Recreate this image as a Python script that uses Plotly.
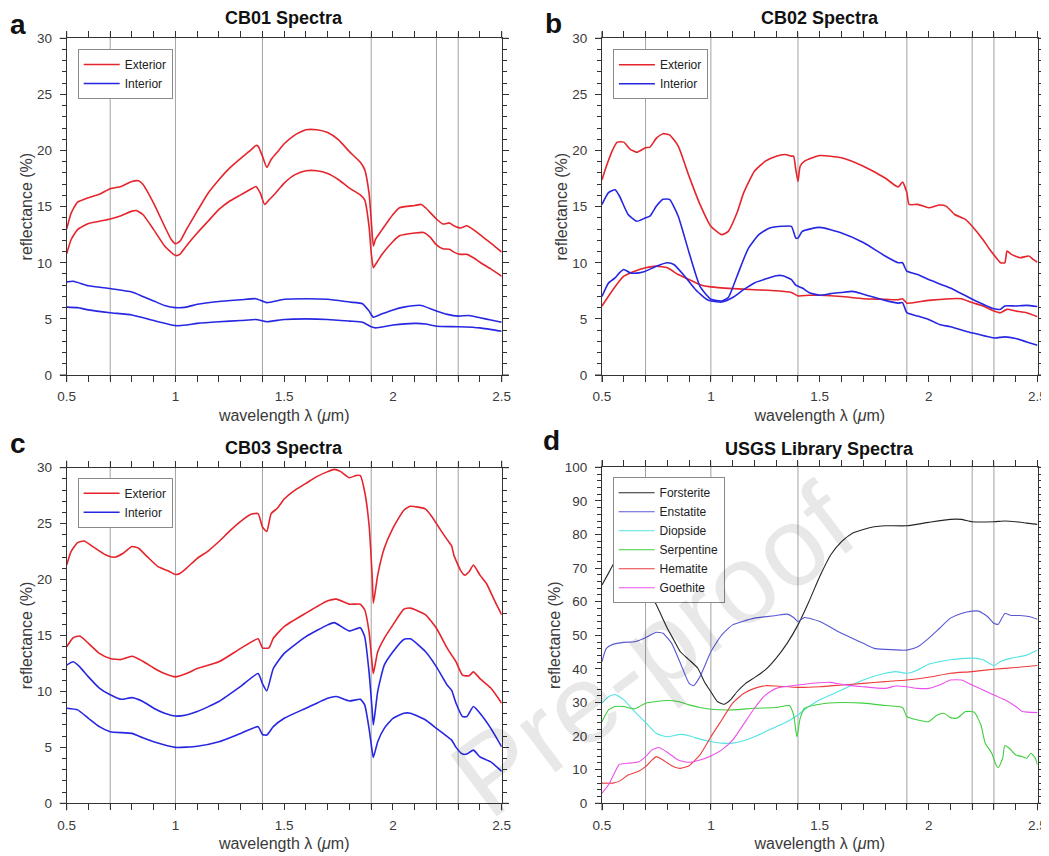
import plotly.graph_objects as go

FONT = "Liberation Sans, Arial, sans-serif"

# ---------------- data ----------------
band_centers = [0.7, 1.0, 1.4, 1.9, 2.2, 2.3]

# CB01
cb01_ext_a = [(0.5,13.0),(0.52,14.4),(0.55,15.4),(0.6,15.8),(0.65,16.1),(0.7,16.6),(0.75,16.8),(0.8,17.25),(0.83,17.3),(0.85,17.0),(0.9,15.3),(0.95,13.25),(0.98,12.1),(1.0,11.7),(1.02,11.9),(1.05,12.95),(1.1,14.6),(1.15,16.2),(1.2,17.4),(1.25,18.45),(1.3,19.3),(1.35,20.1),(1.37,20.45),(1.38,20.4),(1.4,19.5),(1.42,18.5),(1.44,19.2),(1.47,19.9),(1.5,20.6),(1.55,21.4),(1.6,21.85),(1.65,21.85),(1.7,21.6),(1.75,20.95),(1.8,19.9),(1.85,18.95),(1.87,18.3),(1.89,16.2),(1.9,13.85),(1.91,11.5),(1.92,12.1),(1.95,12.95),(2.0,14.3),(2.03,14.9),(2.1,15.1),(2.13,15.2),(2.15,14.9),(2.2,13.9),(2.23,13.45),(2.26,13.55),(2.28,13.3),(2.31,13.1),(2.34,13.3),(2.37,12.95),(2.4,12.5),(2.45,11.75),(2.5,10.95)]
cb01_ext_b = [(0.5,10.8),(0.52,12.05),(0.55,12.95),(0.6,13.5),(0.65,13.7),(0.7,13.9),(0.75,14.2),(0.8,14.6),(0.82,14.65),(0.85,14.3),(0.9,12.95),(0.95,11.5),(1.0,10.65),(1.02,10.75),(1.05,11.5),(1.1,12.65),(1.15,13.7),(1.2,14.75),(1.25,15.5),(1.3,16.05),(1.35,16.6),(1.37,16.8),(1.39,16.2),(1.41,15.2),(1.43,15.6),(1.46,16.2),(1.5,17.1),(1.55,17.85),(1.6,18.2),(1.65,18.2),(1.7,17.95),(1.75,17.4),(1.8,16.65),(1.85,16.05),(1.87,15.6),(1.89,13.25),(1.9,10.9),(1.91,9.55),(1.92,9.85),(1.95,10.75),(2.0,11.9),(2.03,12.4),(2.1,12.65),(2.14,12.7),(2.17,12.3),(2.2,11.6),(2.23,11.25),(2.26,11.2),(2.28,10.95),(2.31,10.75),(2.34,10.75),(2.37,10.45),(2.4,10.05),(2.45,9.45),(2.5,8.8)]
cb01_int_a = [(0.5,8.3),(0.53,8.35),(0.6,7.95),(0.7,7.7),(0.8,7.4),(0.85,7.0),(0.9,6.6),(0.95,6.2),(1.0,6.0),(1.05,6.05),(1.1,6.3),(1.2,6.55),(1.3,6.7),(1.37,6.8),(1.42,6.45),(1.5,6.75),(1.6,6.8),(1.7,6.75),(1.8,6.5),(1.86,6.35),(1.89,5.7),(1.91,5.15),(1.95,5.45),(2.0,5.8),(2.05,6.05),(2.13,6.2),(2.2,5.7),(2.25,5.4),(2.3,5.25),(2.35,5.3),(2.4,5.1),(2.45,4.9),(2.5,4.7)]
cb01_int_b = [(0.5,6.05),(0.55,6.0),(0.6,5.8),(0.7,5.55),(0.8,5.35),(0.9,4.85),(1.0,4.4),(1.05,4.45),(1.1,4.6),(1.2,4.75),(1.3,4.85),(1.37,4.95),(1.42,4.75),(1.5,4.95),(1.6,5.0),(1.7,4.95),(1.8,4.8),(1.86,4.7),(1.9,4.3),(1.92,4.2),(2.0,4.45),(2.1,4.6),(2.15,4.55),(2.2,4.35),(2.3,4.3),(2.4,4.2),(2.5,3.9)]

# CB02
cb02_ext_a = [(0.5,17.4),(0.52,18.6),(0.55,20.1),(0.57,20.75),(0.6,20.75),(0.63,20.1),(0.66,19.85),(0.7,20.25),(0.72,20.3),(0.75,21.1),(0.78,21.5),(0.81,21.4),(0.85,20.4),(0.9,17.7),(0.95,15.2),(1.0,13.25),(1.05,12.5),(1.08,12.8),(1.12,14.45),(1.15,16.2),(1.2,18.15),(1.25,19.05),(1.3,19.5),(1.34,19.65),(1.37,19.5),(1.38,19.5),(1.39,18.3),(1.4,17.25),(1.41,18.6),(1.43,19.05),(1.5,19.55),(1.6,19.35),(1.7,18.6),(1.8,17.55),(1.86,16.75),(1.88,17.2),(1.9,16.25),(1.91,15.2),(1.95,15.2),(2.0,14.9),(2.05,15.15),(2.08,15.05),(2.12,14.3),(2.17,13.85),(2.2,13.25),(2.25,12.05),(2.28,11.2),(2.31,10.45),(2.33,10.0),(2.35,10.0),(2.36,11.05),(2.38,10.75),(2.42,10.45),(2.46,10.6),(2.48,10.3),(2.5,10.05)]
cb02_ext_b = [(0.5,6.15),(0.55,7.6),(0.6,8.8),(0.65,9.25),(0.7,9.55),(0.75,9.7),(0.8,9.55),(0.85,8.95),(0.9,8.5),(0.95,8.05),(1.0,7.85),(1.1,7.7),(1.2,7.6),(1.3,7.5),(1.37,7.35),(1.4,7.05),(1.45,7.1),(1.5,7.1),(1.6,7.0),(1.7,6.8),(1.8,6.75),(1.86,6.7),(1.88,6.8),(1.9,6.4),(1.95,6.5),(2.0,6.65),(2.1,6.8),(2.15,6.8),(2.2,6.45),(2.25,6.15),(2.3,5.7),(2.33,5.55),(2.36,5.85),(2.4,5.7),(2.45,5.55),(2.5,5.2)]
cb02_int_a = [(0.5,15.2),(0.53,16.25),(0.56,16.5),(0.58,15.95),(0.62,14.3),(0.66,13.7),(0.7,14.0),(0.72,14.15),(0.75,15.05),(0.78,15.65),(0.81,15.65),(0.85,14.15),(0.9,10.9),(0.95,7.9),(1.0,6.75),(1.05,6.6),(1.08,6.9),(1.12,8.8),(1.17,11.2),(1.22,12.5),(1.27,13.1),(1.33,13.25),(1.37,13.25),(1.39,12.2),(1.4,12.2),(1.42,12.8),(1.5,13.15),(1.6,12.65),(1.7,11.8),(1.8,10.6),(1.86,10.0),(1.88,10.0),(1.9,9.25),(1.95,8.95),(2.0,8.5),(2.1,7.75),(2.2,6.75),(2.3,5.9),(2.33,5.85),(2.35,6.15),(2.4,6.15),(2.45,6.2),(2.5,6.1)]
cb02_int_b = [(0.5,7.0),(0.53,8.2),(0.56,8.65),(0.58,9.1),(0.6,9.4),(0.63,9.1),(0.67,9.1),(0.7,9.25),(0.75,9.7),(0.8,10.0),(0.83,9.85),(0.88,8.8),(0.93,7.6),(0.98,6.75),(1.0,6.6),(1.05,6.5),(1.1,6.9),(1.15,7.6),(1.2,8.2),(1.25,8.55),(1.3,8.85),(1.33,8.85),(1.37,8.5),(1.39,8.0),(1.42,7.75),(1.45,7.35),(1.5,7.1),(1.55,7.25),(1.6,7.35),(1.65,7.45),(1.7,7.2),(1.8,6.65),(1.86,6.4),(1.88,6.45),(1.9,5.55),(1.95,5.25),(2.0,4.95),(2.05,4.5),(2.1,4.3),(2.2,3.75),(2.3,3.3),(2.35,3.4),(2.4,3.25),(2.45,2.95),(2.5,2.65)]

# CB03
cb03_ext_a = [(0.5,21.3),(0.52,22.5),(0.55,23.3),(0.58,23.45),(0.62,22.95),(0.68,22.2),(0.72,22.0),(0.76,22.35),(0.8,22.95),(0.83,22.8),(0.87,22.05),(0.92,21.15),(0.97,20.75),(1.0,20.45),(1.02,20.55),(1.05,21.0),(1.1,21.9),(1.15,22.55),(1.2,23.4),(1.25,24.35),(1.3,25.2),(1.35,25.85),(1.38,25.9),(1.4,24.7),(1.42,24.3),(1.44,25.9),(1.47,26.4),(1.5,27.2),(1.55,28.0),(1.6,28.6),(1.65,29.2),(1.7,29.65),(1.73,29.85),(1.76,29.65),(1.8,29.1),(1.83,29.3),(1.85,29.3),(1.87,27.85),(1.89,24.9),(1.905,20.1),(1.91,17.9),(1.93,20.4),(1.96,22.8),(2.0,24.6),(2.05,26.2),(2.08,26.55),(2.15,26.3),(2.18,25.6),(2.22,24.4),(2.25,23.55),(2.27,23.0),(2.28,22.2),(2.31,20.85),(2.33,20.4),(2.35,20.7),(2.37,21.3),(2.4,20.4),(2.43,19.65),(2.47,18.0),(2.5,16.85)]
cb03_ext_b = [(0.5,14.0),(0.53,14.8),(0.56,14.95),(0.6,14.3),(0.65,13.4),(0.7,12.95),(0.75,12.85),(0.8,13.15),(0.85,12.7),(0.9,12.1),(0.95,11.6),(1.0,11.3),(1.05,11.6),(1.1,12.05),(1.2,12.65),(1.3,13.85),(1.38,14.7),(1.4,13.9),(1.43,13.9),(1.45,14.75),(1.5,15.8),(1.6,17.0),(1.7,18.1),(1.74,18.25),(1.8,17.8),(1.85,17.8),(1.87,17.3),(1.89,15.35),(1.905,12.35),(1.91,11.6),(1.93,13.55),(1.96,14.75),(2.0,15.95),(2.05,17.35),(2.08,17.45),(2.15,16.85),(2.2,15.65),(2.25,13.85),(2.27,13.25),(2.29,12.65),(2.32,11.45),(2.35,11.4),(2.37,11.75),(2.4,11.15),(2.45,10.3),(2.5,8.95)]
cb03_int_a = [(0.5,12.35),(0.53,12.65),(0.56,12.2),(0.6,11.3),(0.65,10.3),(0.7,9.7),(0.75,9.3),(0.8,9.45),(0.85,9.1),(0.9,8.5),(0.95,8.05),(1.0,7.8),(1.05,7.9),(1.1,8.2),(1.2,9.1),(1.3,10.45),(1.38,11.6),(1.4,10.7),(1.42,10.05),(1.45,12.05),(1.5,13.4),(1.6,14.9),(1.7,15.95),(1.73,16.15),(1.8,15.4),(1.85,15.7),(1.87,14.9),(1.89,11.75),(1.905,8.2),(1.91,7.0),(1.93,10.0),(1.96,12.35),(2.0,13.55),(2.05,14.65),(2.08,14.7),(2.15,13.55),(2.2,12.2),(2.25,10.55),(2.27,10.1),(2.29,8.95),(2.32,7.75),(2.34,7.75),(2.37,8.65),(2.4,8.05),(2.45,6.7),(2.5,5.05)]
cb03_int_b = [(0.5,8.5),(0.55,8.35),(0.6,7.6),(0.65,6.85),(0.7,6.4),(0.8,6.25),(0.85,5.85),(0.9,5.5),(1.0,5.0),(1.1,5.1),(1.2,5.5),(1.3,6.25),(1.38,6.85),(1.4,6.15),(1.42,6.1),(1.45,6.85),(1.5,7.6),(1.6,8.5),(1.7,9.4),(1.74,9.55),(1.8,9.15),(1.85,9.3),(1.87,8.8),(1.89,6.7),(1.905,4.6),(1.91,4.1),(1.93,5.5),(1.96,6.7),(2.0,7.6),(2.05,8.05),(2.08,8.05),(2.15,7.45),(2.2,6.7),(2.25,5.95),(2.27,5.65),(2.29,5.0),(2.32,4.4),(2.34,4.4),(2.37,4.75),(2.4,4.15),(2.45,3.7),(2.5,2.85)]

# USGS library
forsterite = [(0.5,65.0),(0.53,68.5),(0.55,70.9),(0.58,74.5),(0.62,74.5),(0.66,70.0),(0.7,65.0),(0.75,59.0),(0.8,52.1),(0.83,48.6),(0.86,45.1),(0.9,42.7),(0.94,40.2),(0.97,36.2),(1.0,33.2),(1.03,30.3),(1.06,29.5),(1.09,30.8),(1.12,33.2),(1.16,35.7),(1.2,37.4),(1.25,39.7),(1.3,43.2),(1.35,47.6),(1.4,53.1),(1.45,60.0),(1.5,67.5),(1.55,73.9),(1.6,77.9),(1.65,80.4),(1.7,81.5),(1.75,82.3),(1.8,82.6),(1.9,82.6),(2.0,83.6),(2.1,84.5),(2.15,84.5),(2.2,83.8),(2.3,83.8),(2.35,84.0),(2.4,83.8),(2.45,83.4),(2.5,83.0)]
enstatite = [(0.5,42.2),(0.52,46.1),(0.55,47.3),(0.6,47.9),(0.65,48.1),(0.7,49.3),(0.75,50.9),(0.78,50.6),(0.82,47.6),(0.86,41.7),(0.9,35.7),(0.92,35.0),(0.95,37.7),(1.0,45.1),(1.05,50.1),(1.1,53.1),(1.2,55.1),(1.3,55.9),(1.35,56.3),(1.38,55.3),(1.4,54.1),(1.43,55.3),(1.5,54.1),(1.6,50.6),(1.7,47.6),(1.75,46.1),(1.8,45.8),(1.9,45.6),(1.95,46.6),(2.0,49.1),(2.05,52.1),(2.1,55.1),(2.15,56.5),(2.2,57.2),(2.23,57.2),(2.27,55.6),(2.3,53.6),(2.32,53.3),(2.35,56.5),(2.38,55.9),(2.42,55.9),(2.46,55.6),(2.5,54.8)]
diopside = [(0.5,29.8),(0.53,31.7),(0.56,32.4),(0.6,30.8),(0.65,27.3),(0.7,24.1),(0.75,20.8),(0.8,19.8),(0.86,20.5),(0.9,20.1),(0.95,19.1),(1.0,18.4),(1.05,17.9),(1.1,17.9),(1.15,18.6),(1.2,19.8),(1.3,22.8),(1.35,24.3),(1.4,26.3),(1.45,28.8),(1.5,30.8),(1.6,33.7),(1.7,36.7),(1.8,38.7),(1.85,39.2),(1.9,38.7),(1.95,39.7),(2.0,41.4),(2.1,42.7),(2.2,43.2),(2.25,42.7),(2.3,41.0),(2.33,42.2),(2.38,43.2),(2.45,44.1),(2.5,45.6)]
serpentine = [(0.5,24.3),(0.53,27.8),(0.56,28.8),(0.6,28.8),(0.65,28.1),(0.7,29.8),(0.75,30.3),(0.8,30.6),(0.85,30.3),(0.9,29.3),(0.95,28.5),(1.0,28.0),(1.1,27.8),(1.2,28.3),(1.3,28.5),(1.36,29.1),(1.38,26.3),(1.395,19.8),(1.41,25.3),(1.43,28.3),(1.5,29.5),(1.6,30.0),(1.7,29.8),(1.8,29.1),(1.88,28.5),(1.9,25.8),(1.95,24.8),(2.0,24.3),(2.04,26.3),(2.07,26.8),(2.1,25.5),(2.13,25.3),(2.17,27.3),(2.21,27.1),(2.24,23.3),(2.26,17.9),(2.29,14.9),(2.31,11.4),(2.32,10.6),(2.34,13.4),(2.35,17.2),(2.37,16.4),(2.4,14.4),(2.43,13.9),(2.45,13.4),(2.47,14.9),(2.49,13.4),(2.5,11.4)]
hematite = [(0.5,6.0),(0.55,6.0),(0.58,6.6),(0.62,8.4),(0.67,9.6),(0.7,10.9),(0.73,12.9),(0.75,13.9),(0.78,12.9),(0.82,11.2),(0.86,10.4),(0.9,11.2),(0.95,14.4),(1.0,19.8),(1.05,24.8),(1.1,29.8),(1.15,32.7),(1.2,34.2),(1.25,35.0),(1.3,34.9),(1.4,34.5),(1.5,34.7),(1.6,35.2),(1.7,35.7),(1.8,36.2),(1.9,36.7),(2.0,37.5),(2.1,38.7),(2.2,39.2),(2.3,39.9),(2.4,40.4),(2.5,41.0)]
goethite = [(0.5,3.0),(0.53,5.5),(0.56,9.4),(0.58,11.6),(0.62,11.9),(0.67,12.4),(0.7,13.9),(0.73,15.9),(0.76,16.6),(0.8,15.2),(0.85,12.9),(0.9,12.2),(0.95,12.9),(1.0,14.1),(1.05,15.9),(1.1,18.8),(1.15,23.5),(1.2,28.3),(1.25,32.2),(1.3,34.2),(1.4,35.2),(1.5,35.9),(1.55,36.0),(1.6,35.4),(1.7,34.7),(1.8,34.2),(1.85,34.9),(1.9,34.7),(1.95,34.2),(2.0,34.2),(2.05,35.2),(2.1,36.7),(2.15,36.7),(2.2,35.2),(2.3,32.2),(2.35,30.8),(2.4,28.8),(2.43,27.3),(2.5,27.0)]

panel_titles = ["CB01 Spectra", "CB02 Spectra", "CB03 Spectra", "USGS Library Spectra"]
panel_letters = ["a", "b", "c", "d"]
sample_series = [
    [cb01_ext_a, cb01_ext_b, cb01_int_a, cb01_int_b],
    [cb02_ext_a, cb02_ext_b, cb02_int_a, cb02_int_b],
    [cb03_ext_a, cb03_ext_b, cb03_int_a, cb03_int_b],
]
library_names = ["Forsterite", "Enstatite", "Diopside", "Serpentine", "Hematite", "Goethite"]
library_series = [forsterite, enstatite, diopside, serpentine, hematite, goethite]

# ---------------- styling ----------------
EXT_COLOR = "#e5242c"
INT_COLOR = "#2727e2"
LIB_COLORS = ["#262626", "#5858d6", "#55e3e3", "#3fcf3f", "#ec3c3c", "#ec50ec"]
AX_COLOR = "#333333"
TXT_COLOR = "#3a3a3a"

# the page body adds an 8 px offset; the figure fills the rest of the window
OFF = 8
W, H = 1049 - OFF, 856 - OFF

# layout positions measured on the reference window (pixels)
boxes = [(66.7, 501.7, 38.3, 375.0), (602.0, 1037.5, 38.3, 375.0),
         (66.7, 501.7, 467.7, 803.3), (602.0, 1037.5, 467.3, 803.3)]
legend_pos = [(77.7, 49.0), (612.9, 49.3), (77.6, 477.7), (612.6, 477.3)]
letter_pos = [(17.5, 24.5), (553.0, 23.5), (18.0, 443.5), (551.0, 440.5)]
title_y = [17.7, 17.7, 448.0, 449.4]


def px(x):
    return (x - OFF) / W


def py(y):
    return 1 - (y - OFF) / H


fig = go.Figure()


def unz(pairs):
    return [p[0] for p in pairs], [p[1] for p in pairs]


for i in range(3):
    ax = "" if i == 0 else str(i + 1)
    lg = "legend" if i == 0 else "legend" + str(i + 1)
    for j, series in enumerate(sample_series[i]):
        wl, r = unz(series)
        is_ext = j < 2
        fig.add_trace(go.Scatter(
            x=wl, y=r, mode="lines",
            line=dict(color=EXT_COLOR if is_ext else INT_COLOR, width=1.6,
                      shape="spline", smoothing=0.5),
            name="Exterior" if is_ext else "Interior",
            showlegend=(j % 2 == 0), legend=lg,
            xaxis="x" + ax, yaxis="y" + ax))

for name, series, col in zip(library_names, library_series, LIB_COLORS):
    wl, r = unz(series)
    fig.add_trace(go.Scatter(
        x=wl, y=r, mode="lines",
        line=dict(color=col, width=1.1, shape="spline", smoothing=0.5),
        name=name, legend="legend4", xaxis="x4", yaxis="y4"))

layout = dict(
    width=W, height=H, margin=dict(l=0, r=0, t=0, b=0, autoexpand=False),
    paper_bgcolor="white", plot_bgcolor="white",
    font=dict(family=FONT, color=TXT_COLOR),
    showlegend=True,
)

shapes = []
annotations = []
for i, (l, r, t, b) in enumerate(boxes):
    n = "" if i == 0 else str(i + 1)
    xa = "xaxis" + n
    ya = "yaxis" + n
    ymax = 100 if i == 3 else 30
    layout[xa] = dict(
        domain=[px(l), px(r)], anchor="y" + n, range=[0.5, 2.5],
        tick0=0.5, dtick=0.5, ticks="outside", ticklen=6, tickwidth=1,
        tickcolor=AX_COLOR, showline=True, linecolor=AX_COLOR, linewidth=1,
        mirror="ticks", showgrid=False, zeroline=False, automargin=False,
        ticklabelstandoff=3,
        minor=dict(ticks="outside", tick0=0.5, dtick=0.1, ticklen=6,
                   tickcolor=AX_COLOR, showgrid=False),
        tickfont=dict(size=13.5, color=TXT_COLOR, family=FONT),
        title=dict(text="wavelength \u03bb (<i>\u03bc</i>m)", standoff=6,
                   font=dict(size=16, color=TXT_COLOR, family=FONT)),
    )
    layout[ya] = dict(
        domain=[py(b), py(t)], anchor="x" + n, range=[0, ymax],
        tick0=0, dtick=10 if i == 3 else 5, ticks="outside", ticklen=6,
        tickwidth=1, tickcolor=AX_COLOR, showline=True, linecolor=AX_COLOR,
        linewidth=1, mirror="ticks", showgrid=False, zeroline=False,
        automargin=False, ticklabelstandoff=5,
        minor=dict(ticks="outside", dtick=2 if i == 3 else 1, ticklen=4,
                   tickcolor=AX_COLOR, showgrid=False),
        tickfont=dict(size=13.5, color=TXT_COLOR, family=FONT),
        title=dict(text="reflectance (%)", standoff=0,
                   font=dict(size=16, color=TXT_COLOR, family=FONT)),
    )
    # short extensions of the frame lines past the corners
    ex = 7 / (r - l)
    ey = 7 / (b - t)
    xd = "x" + n + " domain"
    yd = "y" + n + " domain"
    ext = [(-ex, 0, 0, 0), (1, 0, 1 + ex, 0), (-ex, 1, 0, 1), (1, 1, 1 + ex, 1),
           (0, -ey, 0, 0), (0, 1, 0, 1 + ey), (1, -ey, 1, 0), (1, 1, 1, 1 + ey)]
    for x0, y0, x1, y1 in ext:
        shapes.append(dict(type="line", xref=xd, yref=yd, x0=x0, y0=y0, x1=x1, y1=y1,
                           line=dict(color=AX_COLOR, width=1), layer="above"))
    # absorption band reference lines
    eg = 6 / (b - t)
    for bc in band_centers:
        shapes.append(dict(type="line", xref="x" + n, yref=yd, x0=bc, x1=bc,
                           y0=-eg, y1=1 + eg, line=dict(color="#a3a3a3", width=1),
                           layer="below"))
    # legend
    lx, ly = legend_pos[i]
    lname = "legend" if i == 0 else "legend" + str(i + 1)
    layout[lname] = dict(
        x=px(lx), y=py(ly), xanchor="left", yanchor="top",
        bgcolor="white", bordercolor="#8a8a8a", borderwidth=1,
        font=dict(size=12, color="#222222", family=FONT),
        traceorder="normal", tracegroupgap=0, itemwidth=36)
    # panel title
    annotations.append(dict(
        text="<b>" + panel_titles[i] + "</b>", xref="paper", yref="paper",
        x=px((l + r) / 2), y=py(title_y[i]), xanchor="center", yanchor="middle",
        showarrow=False, font=dict(size=18, color="#111111", family=FONT)))
    # panel letter
    lx2, ly2 = letter_pos[i]
    annotations.append(dict(
        text="<b>" + panel_letters[i] + "</b>", xref="paper", yref="paper",
        x=px(lx2), y=py(ly2), xanchor="center", yanchor="middle",
        showarrow=False, font=dict(size=28, color="#111111", family=FONT)))

# journal watermark (visible part)
annotations.append(dict(
    text="Pre-proof", xref="paper", yref="paper", x=px(653), y=py(650),
    xanchor="center", yanchor="middle", textangle=-37, showarrow=False,
    font=dict(size=112, color="rgba(0,0,0,0.09)", family=FONT)))

layout["shapes"] = shapes
layout["annotations"] = annotations
fig.update_layout(**layout)

fig.write_html("out.html")
